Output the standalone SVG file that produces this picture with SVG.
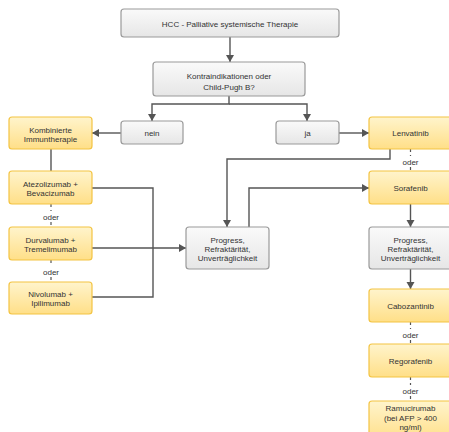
<svg xmlns="http://www.w3.org/2000/svg" width="449" height="432" viewBox="0 0 449 432">
<defs>
<linearGradient id="gGray" x1="0" y1="0" x2="0" y2="1"><stop offset="0" stop-color="#fafafa"/><stop offset="1" stop-color="#e6e6e6"/></linearGradient>
<linearGradient id="gYel" x1="0" y1="0" x2="0" y2="1"><stop offset="0" stop-color="#fff4cc"/><stop offset="1" stop-color="#ffdf88"/></linearGradient>
<marker id="arr" markerUnits="userSpaceOnUse" markerWidth="10" markerHeight="10" viewBox="0 0 10 10" refX="9" refY="5" orient="auto"><path d="M2,1 L9,5 L2,9 Z" fill="#555"/></marker>
<style>
.g rect{fill:url(#gGray);stroke:#9a9a9a;stroke-width:1.2}
.y rect{fill:url(#gYel);stroke:#f3c443;stroke-width:1.2}
text{font-family:"Liberation Sans",Arial,sans-serif;font-size:8px;fill:#333;text-anchor:middle}
.c path{fill:none;stroke:#555;stroke-width:1.4}
.d path{fill:none;stroke:#555;stroke-width:1.2;stroke-dasharray:3,3}
</style>
</defs>
<g class="c">
<path d="M230,37 V62" marker-end="url(#arr)"/>
<path d="M229,96 V104 H152 V121" marker-end="url(#arr)"/>
<path d="M229,104 H307 V121" marker-end="url(#arr)"/>
<path d="M121,133 H92" marker-end="url(#arr)"/>
<path d="M51,149 V171"/>
<path d="M339,133 H369" marker-end="url(#arr)"/>
<path d="M92,188 H153 V297 H92"/>
<path d="M92,248 H186" marker-end="url(#arr)"/>
<path d="M390,149 V159 H227 V227" marker-end="url(#arr)"/>
<path d="M249,227 V188 H369" marker-end="url(#arr)"/>
<path d="M410.5,204 V227" marker-end="url(#arr)"/>
<path d="M410.5,269 V289" marker-end="url(#arr)"/>
</g>
<g class="d">
<path d="M51,204 V211 M51,222 V227"/>
<path d="M51,260 V266 M51,277 V282"/>
<path d="M410.5,149 V156 M410.5,167 V171"/>
<path d="M410.5,322 V329 M410.5,340 V344"/>
<path d="M410.5,377 V385 M410.5,396 V401"/>
</g>
<g id="labels">
<text x="51" y="220">oder</text>
<text x="51" y="275">oder</text>
<text x="410.5" y="165">oder</text>
<text x="410.5" y="338">oder</text>
<text x="410.5" y="394">oder</text>
</g>
<g id="n-hcc" class="g"><rect x="121" y="9" width="218" height="28" rx="3"/><text x="230" y="27">HCC - Palliative systemische Therapie</text></g>
<g id="n-kontra" class="g"><rect x="153" y="62" width="152" height="34" rx="3"/><text x="229" y="79">Kontraindikationen oder</text><text x="229" y="90">Child-Pugh B?</text></g>
<g id="n-nein" class="g"><rect x="121" y="121" width="62" height="23" rx="3"/><text x="152" y="135.5">nein</text></g>
<g id="n-ja" class="g"><rect x="276" y="121" width="63" height="23" rx="3"/><text x="307.5" y="135.5">ja</text></g>
<g id="n-kombi" class="y"><rect x="9" y="117" width="83" height="32" rx="3"/><text x="50.5" y="133">Kombinierte</text><text x="50.5" y="142">Immuntherapie</text></g>
<g id="n-atezo" class="y"><rect x="9" y="171" width="83" height="33" rx="3"/><text x="50.5" y="187">Atezolizumab +</text><text x="50.5" y="196">Bevacizumab</text></g>
<g id="n-durva" class="y"><rect x="9" y="227" width="83" height="33" rx="3"/><text x="50.5" y="243">Durvalumab +</text><text x="50.5" y="252">Tremelimumab</text></g>
<g id="n-nivo" class="y"><rect x="9" y="282" width="83" height="32" rx="3"/><text x="50.5" y="297">Nivolumab +</text><text x="50.5" y="306">Ipilimumab</text></g>
<g id="n-prog1" class="g"><rect x="186" y="227" width="83" height="42" rx="3"/><text x="227.5" y="243">Progress,</text><text x="227.5" y="252">Refraktärität,</text><text x="227.5" y="261">Unverträglichkeit</text></g>
<g id="n-lenva" class="y"><rect x="369" y="117" width="83" height="32" rx="3"/><text x="410.5" y="136">Lenvatinib</text></g>
<g id="n-sora" class="y"><rect x="369" y="171" width="83" height="33" rx="3"/><text x="410.5" y="190.5">Sorafenib</text></g>
<g id="n-prog2" class="g"><rect x="369" y="227" width="83" height="42" rx="3"/><text x="410.5" y="243">Progress,</text><text x="410.5" y="252">Refraktärität,</text><text x="410.5" y="261">Unverträglichkeit</text></g>
<g id="n-cabo" class="y"><rect x="369" y="289" width="83" height="33" rx="3"/><text x="410.5" y="308.5">Cabozantinib</text></g>
<g id="n-rego" class="y"><rect x="369" y="344" width="83" height="33" rx="3"/><text x="410.5" y="363.5">Regorafenib</text></g>
<g id="n-ramu" class="y"><rect x="369" y="401" width="83" height="40" rx="3"/><text x="410.5" y="411">Ramucirumab</text><text x="410.5" y="421">(bei AFP &gt; 400</text><text x="410.5" y="430">ng/ml)</text></g>
</svg>
